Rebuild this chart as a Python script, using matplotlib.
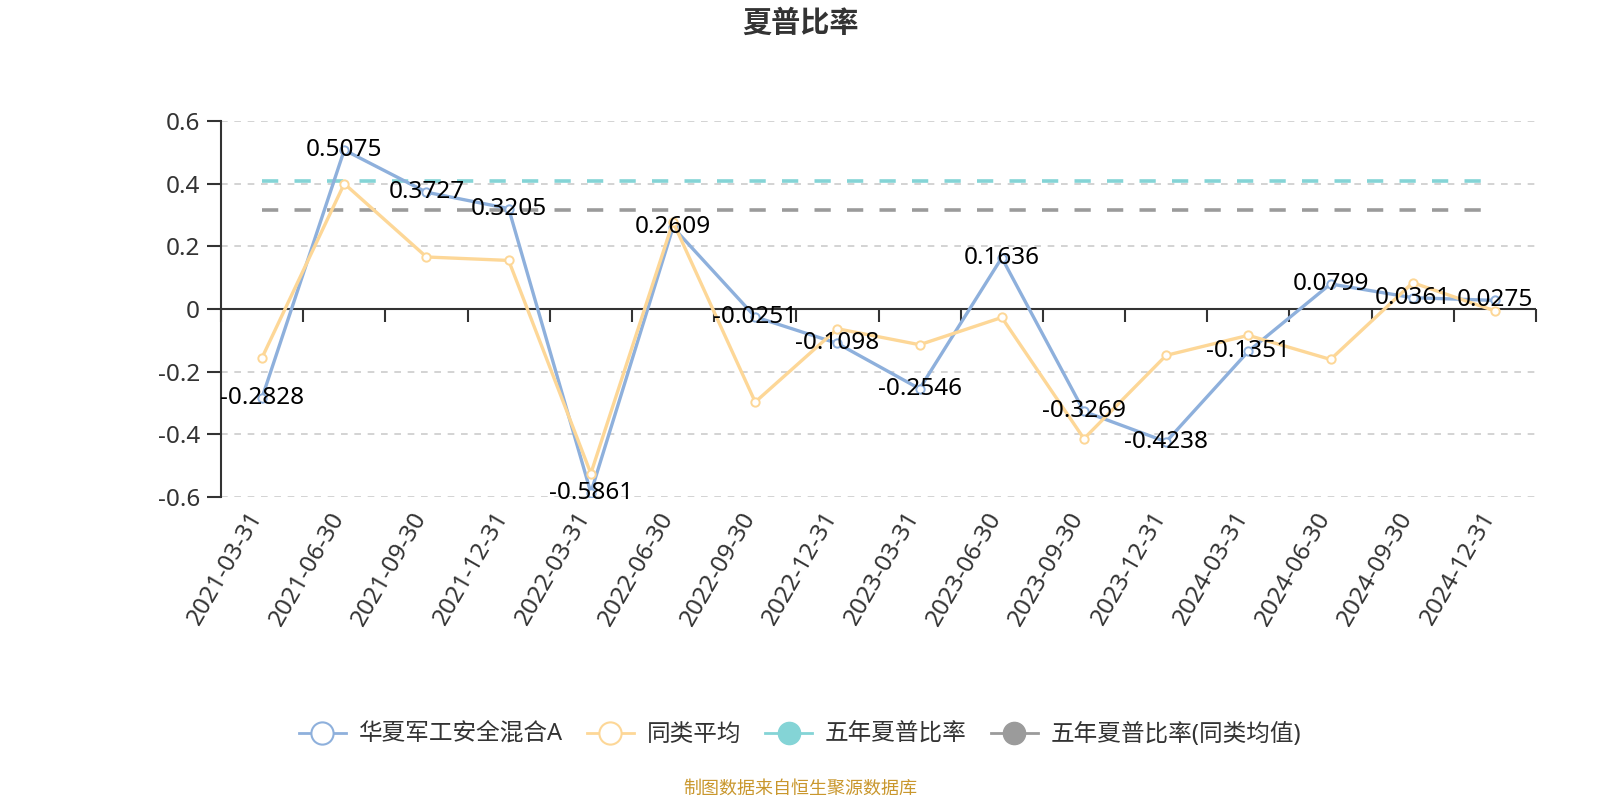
import matplotlib
matplotlib.use("Agg")
import matplotlib.pyplot as plt
from matplotlib.lines import Line2D
from matplotlib.ticker import FuncFormatter

plt.rcParams['font.family'] = ['Noto Sans', 'Noto Sans CJK SC', 'DejaVu Sans']

# --- data ---
dates = ['2021-03-31', '2021-06-30', '2021-09-30', '2021-12-31',
         '2022-03-31', '2022-06-30', '2022-09-30', '2022-12-31',
         '2023-03-31', '2023-06-30', '2023-09-30', '2023-12-31',
         '2024-03-31', '2024-06-30', '2024-09-30', '2024-12-31']
fund = [-0.2828, 0.5075, 0.3727, 0.3205, -0.5861, 0.2609, -0.0251, -0.1098,
        -0.2546, 0.1636, -0.3269, -0.4238, -0.1351, 0.0799, 0.0361, 0.0275]
peer_avg = [-0.155, 0.400, 0.166, 0.155, -0.525, 0.278, -0.297, -0.063,
            -0.114, -0.027, -0.414, -0.148, -0.084, -0.161, 0.084, -0.006]
five_year = 0.41
five_year_peer = 0.315

names = ['华夏军工安全混合A', '同类平均', '五年夏普比率', '五年夏普比率(同类均值)']
c_blue = '#8eb0dc'
c_orange = '#fdd797'
c_teal = '#84d4d6'
c_gray = '#9b9b9b'

x = list(range(len(dates)))

fig = plt.figure(figsize=(16, 8), dpi=100)
ax = fig.add_axes([221 / 1600, 1 - 497 / 800, 1315 / 1600, 376 / 800])

# reference lines (flat series)
ax.plot(x, [five_year] * len(x), color=c_teal, lw=2.6, dashes=(4.5, 4.5), zorder=2)
ax.plot(x, [five_year_peer] * len(x), color=c_gray, lw=2.6, dashes=(4.5, 4.5), zorder=2)

ax.plot(x, fund, color=c_blue, lw=2.4, marker='o', ms=6, mfc='white',
        mec=c_blue, mew=1.4, zorder=3)
ax.plot(x, peer_avg, color=c_orange, lw=2.4, marker='o', ms=6, mfc='white',
        mec=c_orange, mew=1.4, zorder=4)

for xi, v in zip(x, fund):
    ax.text(xi, v, f'{v:.4f}', ha='center', va='center', fontsize=17.5,
            color='black', zorder=6)

ax.set_xlim(-0.5, len(x) - 0.5)
ax.set_ylim(-0.6, 0.6)
ax.set_yticks([-0.6, -0.4, -0.2, 0, 0.2, 0.4, 0.6])
ax.yaxis.set_major_formatter(FuncFormatter(lambda v, p: '0' if abs(v) < 1e-9 else f'{v:.1f}'))
ax.yaxis.grid(True, color='#cccccc', lw=1.2, dashes=(4, 4))
ax.set_axisbelow(True)

# zero line of the category axis
ax.axhline(0, color='#333333', lw=1.5, zorder=2.5)

ax.set_xticks(x)
ax.set_xticklabels(dates, rotation=60, ha='right', va='baseline', rotation_mode='anchor')
ax.tick_params(axis='x', length=0, pad=14, labelsize=17.5, labelcolor='#333333')
ax.tick_params(axis='y', length=10, width=1.5, color='#333333', pad=5,
               labelsize=17.5, labelcolor='#333333')

for s in ['top', 'right', 'bottom']:
    ax.spines[s].set_visible(False)
ax.spines['left'].set_color('#333333')
ax.spines['left'].set_linewidth(1.5)

# boundary ticks on the zero line
sec = ax.secondary_xaxis(0.5)
sec.set_alignment('bottom')
sec.set_xticks([i - 0.5 for i in range(len(x) + 1)])
sec.set_xticklabels([])
sec.spines['bottom'].set_visible(False)
sec.tick_params(axis='x', length=9, width=1.5, color='#333333', direction='out')

fig.text(0.5, 1 - 23 / 800, '夏普比率', ha='center', va='center',
         fontsize=21, fontweight='bold', color='#333333',
         family=['Noto Sans CJK SC'])

handles = [
    Line2D([], [], color=c_blue, lw=2, marker='o', ms=16, mfc='white', mec=c_blue, mew=1.5),
    Line2D([], [], color=c_orange, lw=2, marker='o', ms=16, mfc='white', mec=c_orange, mew=1.5),
    Line2D([], [], color=c_teal, lw=2, marker='o', ms=16, mfc=c_teal, mec=c_teal),
    Line2D([], [], color=c_gray, lw=2, marker='o', ms=16, mfc=c_gray, mec=c_gray),
]
leg = fig.legend(handles, names, loc='center', bbox_to_anchor=(0.5, 1 - 735 / 800),
                 ncol=4, frameon=False, fontsize=17, handlelength=2.0,
                 handletextpad=0.55, columnspacing=1.0)
for t in leg.get_texts():
    t.set_color('#333333')

fig.text(0.5, 1 - 789 / 800, '制图数据来自恒生聚源数据库', ha='center', va='center',
         fontsize=13, color='#c9972d', family=['Noto Sans CJK SC'])

fig.savefig('out.png', dpi=100)
